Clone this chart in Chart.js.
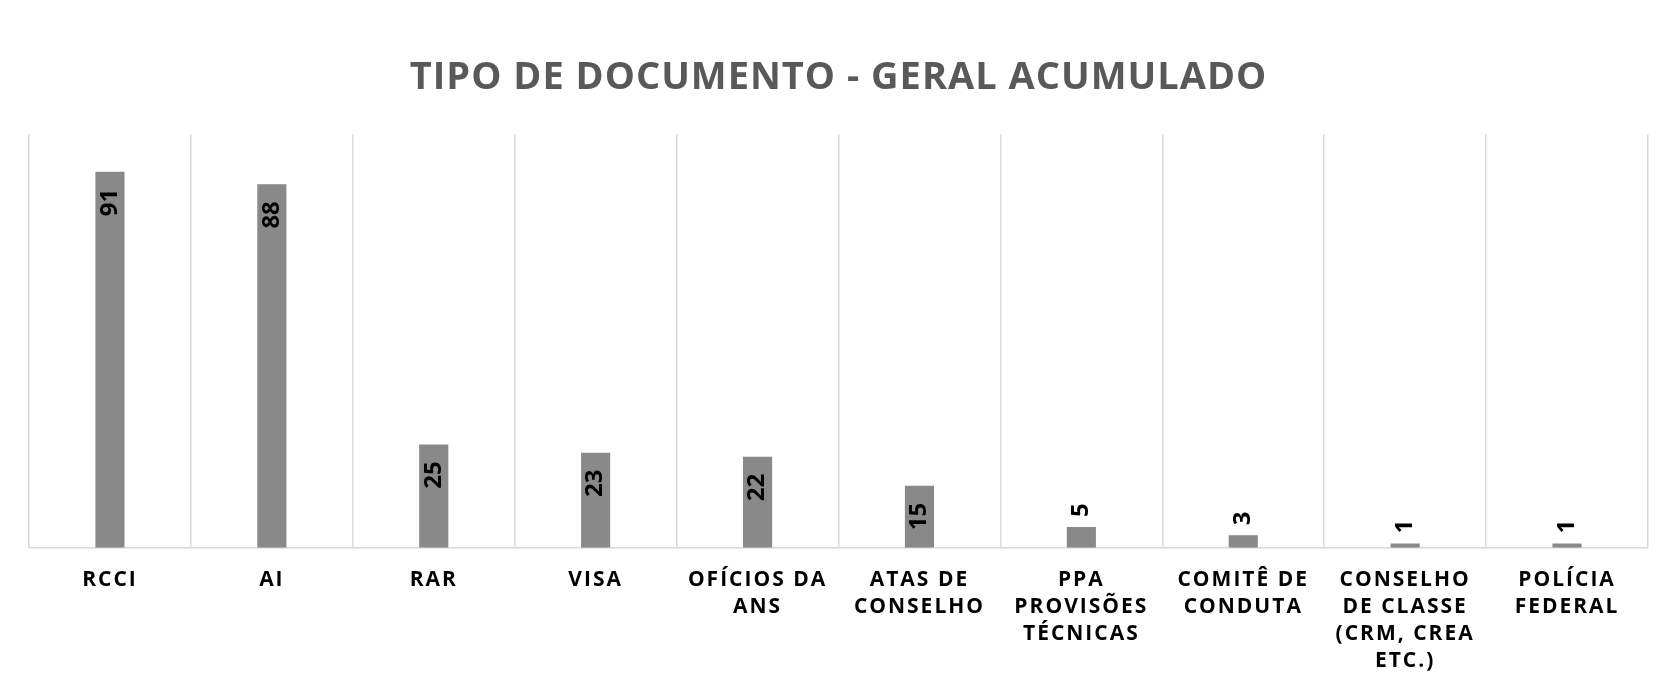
<!DOCTYPE html>
<html>
<head>
<meta charset="utf-8">
<script src="https://cdn.jsdelivr.net/npm/chart.js@4"></script>
<style>
    html, body { margin: 0; padding: 0; background: #fff; }
    #wrap { width: 1679px; height: 692px; }
</style>
</head>
<body>
<div id="wrap"><canvas id="doc-chart"></canvas></div>
<script>
// Chart data
const chartTitle = 'TIPO DE DOCUMENTO - GERAL ACUMULADO';
const categories = [
    'RCCI',
    'AI',
    'RAR',
    'VISA',
    ['OFÍCIOS DA', 'ANS'],
    ['ATAS DE', 'CONSELHO'],
    ['PPA', 'PROVISÕES', 'TÉCNICAS'],
    ['COMITÊ DE', 'CONDUTA'],
    ['CONSELHO', 'DE CLASSE', '(CRM, CREA', 'ETC.)'],
    ['POLÍCIA', 'FEDERAL']
];
const values = [91, 88, 25, 23, 22, 15, 5, 3, 1, 1];
const yMax = 100;

// letter spacing: title a bit, axis labels more (labels are drawn on top layer, after datasets)
const spacingPlugin = {
    id: 'spacing',
    beforeUpdate(chart) { chart.ctx.letterSpacing = '2px'; },
    beforeDraw(chart) { chart.ctx.letterSpacing = '1px'; },
    afterDatasetsDraw(chart) { chart.ctx.letterSpacing = '2px'; }
};

// rotated value labels: inside end, or outside end if they don't fit
const valueLabels = {
    id: 'valueLabels',
    afterDatasetsDraw(chart) {
        const ctx = chart.ctx;
        const meta = chart.getDatasetMeta(0);
        ctx.save();
        ctx.letterSpacing = '0px';
        ctx.font = 'bold 24px "Open Sans"';
        ctx.fillStyle = '#000';
        ctx.textBaseline = 'middle';
        meta.data.forEach((bar, i) => {
            const txt = String(values[i]);
            const w = ctx.measureText(txt).width;
            const h = bar.base - bar.y;
            ctx.save();
            if (h >= w + 24) {
                ctx.translate(bar.x, bar.y + 17);
                ctx.rotate(-Math.PI / 2);
                ctx.textAlign = 'right';
            } else {
                ctx.translate(bar.x, bar.y - 10);
                ctx.rotate(-Math.PI / 2);
                ctx.textAlign = 'left';
            }
            ctx.fillText(txt, 0, 0);
            ctx.restore();
        });
        ctx.restore();
    }
};

new Chart(document.getElementById('doc-chart'), {
    type: 'bar',
    data: {
        labels: categories,
        datasets: [{
            data: values,
            backgroundColor: '#898989',
            borderWidth: 0,
            categoryPercentage: 1,
            barPercentage: 0.18
        }]
    },
    options: {
        responsive: true,
        maintainAspectRatio: false,
        animation: false,
        layout: {
            padding: { left: 29, right: 31, top: 0, bottom: -2 }
        },
        scales: {
            y: {
                display: false,
                min: 0,
                max: yMax
            },
            x: {
                grid: {
                    color: '#d9d9d9',
                    lineWidth: 1.5,
                    drawTicks: false,
                    offset: true
                },
                border: { color: '#d9d9d9', width: 1.5 },
                ticks: {
                    z: 1,
                    color: '#000',
                    autoSkip: false,
                    maxRotation: 0,
                    padding: 19,
                    font: { family: 'Open Sans', size: 21, weight: 'bold', lineHeight: 1.29 }
                }
            }
        },
        plugins: {
            legend: { display: false },
            tooltip: { enabled: false },
            title: {
                display: true,
                text: chartTitle,
                color: '#595959',
                font: { family: 'Open Sans', size: 38, weight: 'bold', lineHeight: 1.2 },
                padding: { top: 55, bottom: 34 }
            }
        }
    },
    plugins: [spacingPlugin, valueLabels]
});
</script>
</body>
</html>
